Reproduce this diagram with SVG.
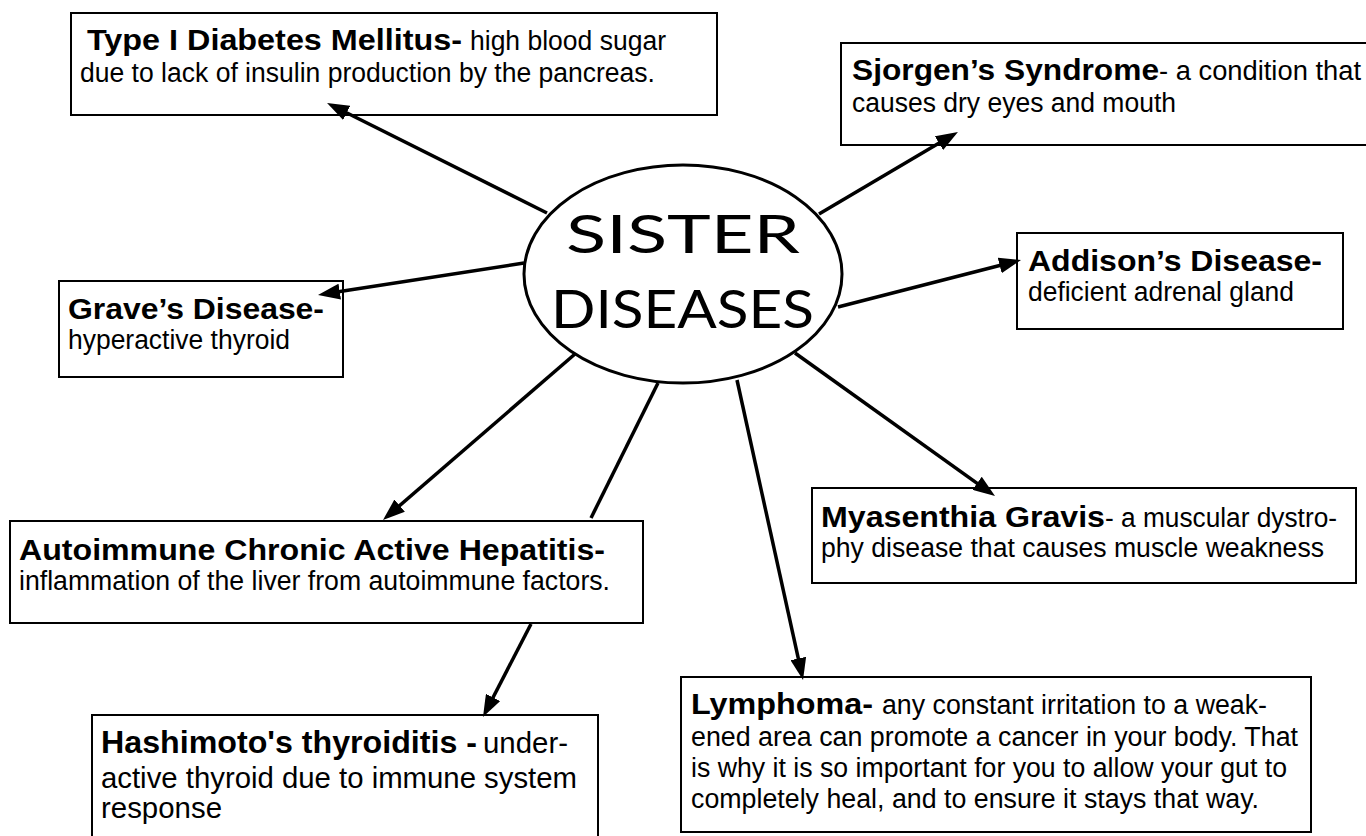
<svg xmlns="http://www.w3.org/2000/svg" width="1366" height="836" viewBox="0 0 1366 836">
<style>
.box{fill:#fff;stroke:#000;stroke-width:2}
.b{font-family:"Liberation Sans",Arial,sans-serif;font-weight:bold;fill:#000}
.r{font-family:"Liberation Sans",Arial,sans-serif;fill:#000}
.c{stroke:#000;stroke-width:3.5;fill:none}
.title{font-family:Lato,"DejaVu Sans",sans-serif;font-size:52px;fill:#000}
</style>
<defs>
<marker id="ah" markerWidth="22" markerHeight="16" refX="13" refY="8" orient="auto" markerUnits="userSpaceOnUse">
<path d="M0,0 L22,8 L0,16 z" fill="#000"/>
</marker>
</defs>

<g id="type1">
<rect class="box" x="71" y="13" width="646" height="102"/>
<text class="b" x="87" y="50" font-size="29" textLength="375" lengthAdjust="spacingAndGlyphs">Type I Diabetes Mellitus-</text>
<text class="r" x="470" y="50" font-size="27" textLength="196" lengthAdjust="spacingAndGlyphs">high blood sugar</text>
<text class="r" x="80" y="82" font-size="27" textLength="575" lengthAdjust="spacingAndGlyphs">due to lack of insulin production by the pancreas.</text>
</g>

<g id="sjorgen">
<rect class="box" x="841" y="43" width="530" height="102"/>
<text class="b" x="852" y="80" font-size="29" textLength="307" lengthAdjust="spacingAndGlyphs">Sjorgen’s Syndrome</text>
<text class="r" x="1159" y="80" font-size="27" textLength="202" lengthAdjust="spacingAndGlyphs">- a condition that</text>
<text class="r" x="852" y="112" font-size="27" textLength="324" lengthAdjust="spacingAndGlyphs">causes dry eyes and mouth</text>
</g>

<g id="graves">
<rect class="box" x="59" y="281" width="284" height="96"/>
<text class="b" x="68" y="319" font-size="29" textLength="256" lengthAdjust="spacingAndGlyphs">Grave’s Disease-</text>
<text class="r" x="68" y="349" font-size="27" textLength="222" lengthAdjust="spacingAndGlyphs">hyperactive thyroid</text>
</g>

<g id="addison">
<rect class="box" x="1017" y="233" width="326" height="96"/>
<text class="b" x="1028" y="271" font-size="29" textLength="294" lengthAdjust="spacingAndGlyphs">Addison’s Disease-</text>
<text class="r" x="1028" y="301" font-size="27" textLength="266" lengthAdjust="spacingAndGlyphs">deficient adrenal gland</text>
</g>

<g id="myasthenia">
<rect class="box" x="812" y="488" width="544" height="95"/>
<text class="b" x="821" y="527" font-size="29" textLength="284" lengthAdjust="spacingAndGlyphs">Myasenthia Gravis</text>
<text class="r" x="1105" y="527" font-size="27" textLength="232" lengthAdjust="spacingAndGlyphs">- a muscular dystro-</text>
<text class="r" x="821" y="557" font-size="27" textLength="503" lengthAdjust="spacingAndGlyphs">phy disease that causes muscle weakness</text>
</g>

<g id="autoimmune">
<rect class="box" x="10" y="521" width="633" height="102"/>
<text class="b" x="19" y="560" font-size="29" textLength="586" lengthAdjust="spacingAndGlyphs">Autoimmune Chronic Active Hepatitis-</text>
<text class="r" x="19" y="590" font-size="27" textLength="591" lengthAdjust="spacingAndGlyphs">inflammation of the liver from autoimmune factors.</text>
</g>

<g id="hashimoto">
<rect class="box" x="92" y="715" width="506" height="140"/>
<text class="b" x="101" y="753" font-size="31" textLength="376" lengthAdjust="spacingAndGlyphs">Hashimoto's thyroiditis -</text>
<text class="r" x="483" y="753" font-size="29" textLength="85" lengthAdjust="spacingAndGlyphs">under-</text>
<text class="r" x="101" y="788" font-size="29" textLength="476" lengthAdjust="spacingAndGlyphs">active thyroid due to immune system</text>
<text class="r" x="101" y="818" font-size="29" textLength="121" lengthAdjust="spacingAndGlyphs">response</text>
</g>

<g id="lymphoma">
<rect class="box" x="681" y="677" width="630" height="155"/>
<text class="b" x="691" y="714" font-size="29" textLength="182" lengthAdjust="spacingAndGlyphs">Lymphoma-</text>
<text class="r" x="882" y="714" font-size="27" textLength="385" lengthAdjust="spacingAndGlyphs">any constant irritation to a weak-</text>
<text class="r" x="691" y="746" font-size="27" textLength="607" lengthAdjust="spacingAndGlyphs">ened area can promote a cancer in your body. That</text>
<text class="r" x="691" y="777" font-size="27" textLength="596" lengthAdjust="spacingAndGlyphs">is why it is so important for you to allow your gut to</text>
<text class="r" x="691" y="808" font-size="27" textLength="568" lengthAdjust="spacingAndGlyphs">completely heal, and to ensure it stays that way.</text>
</g>

<g id="connectors">
<line class="c" x1="547" y1="213" x2="335.1" y2="107.0" marker-end="url(#ah)"/>
<line class="c" x1="819" y1="214" x2="950.2" y2="136.6" marker-end="url(#ah)"/>
<line class="c" x1="524" y1="263" x2="326.9" y2="293.6" marker-end="url(#ah)"/>
<line class="c" x1="838" y1="307" x2="1012.3" y2="262.2" marker-end="url(#ah)"/>
<line class="c" x1="795" y1="353" x2="987.7" y2="490.8" marker-end="url(#ah)"/>
<line class="c" x1="737" y1="380" x2="801.1" y2="671.2" marker-end="url(#ah)"/>
<line class="c" x1="575" y1="354" x2="389.8" y2="514.1" marker-end="url(#ah)"/>
<line class="c" x1="658" y1="383" x2="591" y2="518"/>
<line class="c" x1="531" y1="624" x2="487.1" y2="709.0" marker-end="url(#ah)"/>
</g>

<g id="center">
<ellipse cx="683" cy="274" rx="159" ry="109" fill="#fff" stroke="#000" stroke-width="3"/>
<text class="title" x="566" y="253" textLength="234" lengthAdjust="spacingAndGlyphs">SISTER</text>
<text class="title" x="551" y="328" textLength="263" lengthAdjust="spacingAndGlyphs">DISEASES</text>
</g>
</svg>
